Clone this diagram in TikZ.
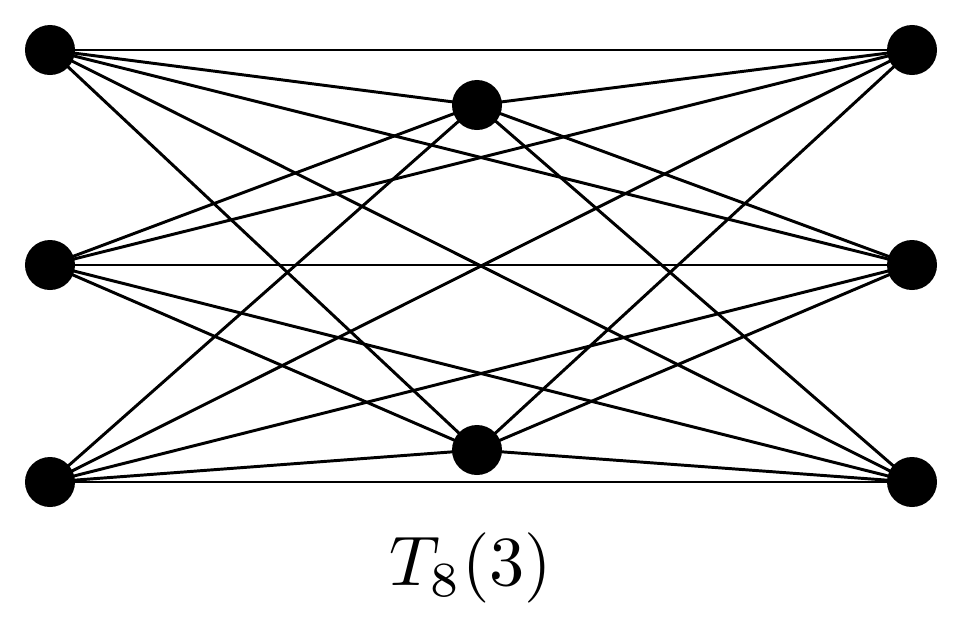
\documentclass[tikz,border=0pt]{standalone}
\usepackage{graphicx}
\begin{document}
\begin{tikzpicture}[x=0.025cm,y=-0.025cm,
  vtx/.style={circle,fill=black,inner sep=0pt,minimum size=1.25cm},
  edge/.style={line width=2.1pt}]
\useasboundingbox (0,0) rectangle (968,620);
\node[vtx] (a1) at (50,50) {};
\node[vtx] (a2) at (50,265) {};
\node[vtx] (a3) at (50,482) {};
\node[vtx] (c1) at (912,50) {};
\node[vtx] (c2) at (912,265) {};
\node[vtx] (c3) at (912,482) {};
\node[vtx] (b1) at (477,105) {};
\node[vtx] (b2) at (477,450) {};
\foreach \a in {a1,a2,a3}{
  \foreach \c in {c1,c2,c3}{\draw[edge] (\a.center) -- (\c.center);}
  \foreach \b in {b1,b2}{\draw[edge] (\a.center) -- (\b.center);}
}
\foreach \c in {c1,c2,c3}{\foreach \b in {b1,b2}{\draw[edge] (\c.center) -- (\b.center);}}
\node (lbl) at (471,568) {\scalebox{5}{$T_8(3)$}};
\end{tikzpicture}
\end{document}
